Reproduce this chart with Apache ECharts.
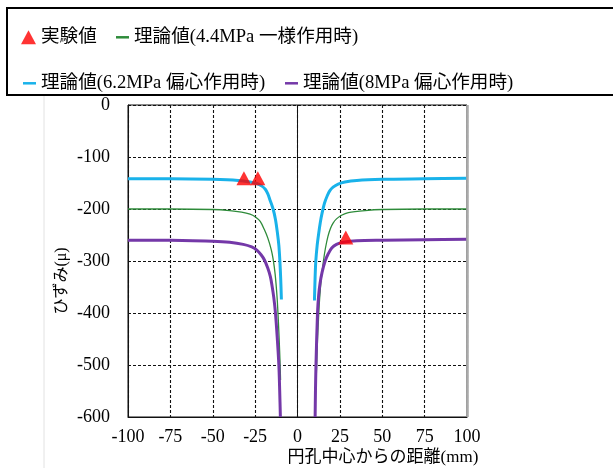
<!DOCTYPE html>
<html><head><meta charset="utf-8">
<script src="https://cdn.jsdelivr.net/npm/echarts@6/dist/echarts.min.js"></script>
<style>html,body{margin:0;padding:0;background:#fff}#c{width:613px;height:468px}</style>
</head><body><div id="c"></div>
<script>
// ---- data ----
const xTicks = [-100, -75, -50, -25, 0, 25, 50, 75, 100];
const yTicks = [-600, -500, -400, -300, -200, -100, 0];

const expPoints = [[-31.6, -141], [-23.4, -141], [28.5, -255]];

const green44Left = [[-100,-200],[-75,-200],[-50,-201],[-40,-203],[-33,-206],[-28,-210],[-25,-215],[-22,-224],[-19.5,-240],[-17.5,-256],[-15.5,-278],[-14.4,-296],[-13.2,-325],[-12,-372],[-11.3,-415],[-10.8,-452],[-10.3,-495],[-10,-529]];
const green44Right = [[11,-529],[11.4,-490],[11.8,-452],[12.4,-410],[13,-375],[14,-335],[15.3,-300],[16.5,-275],[18,-252],[19.5,-237],[21,-227],[23,-219],[26,-212],[30,-207],[40,-203],[50,-201],[75,-200],[100,-200]];

const blue62Left = [[-100,-142],[-75,-142],[-50,-143],[-35,-145],[-28,-148],[-24,-151],[-21,-156],[-19,-162],[-17.5,-171],[-16.3,-182],[-14.4,-200],[-13,-220],[-11.8,-247],[-11,-270],[-10.4,-300],[-9.9,-335],[-9.5,-374]];
const blue62Right = [[10,-376],[10.4,-330],[10.8,-300],[11.6,-270],[12.5,-247],[13.5,-225],[14.5,-208],[16,-188],[17.5,-175],[19,-165],[21,-158],[24,-152],[28,-148],[35,-145],[50,-143],[75,-142],[100,-141]];

const purple8Left = [[-100,-260],[-75,-260],[-50,-262],[-40,-264],[-32,-268],[-27,-273],[-24,-279],[-21.5,-288],[-19.5,-298],[-17.5,-314],[-16,-330],[-15,-348],[-14,-370],[-13,-400],[-12,-445],[-11,-500],[-10.5,-550],[-10.1,-600]];
const purple8Right = [[10.4,-600],[10.6,-550],[10.9,-500],[11.8,-400],[12.5,-365],[13.3,-343],[14.5,-322],[16.3,-300],[18,-287],[20.2,-275],[23,-268],[27,-264],[35,-261],[50,-260],[75,-259],[100,-258]];

const names = ['実験値', '理論値(4.4MPa 一様作用時)', '理論値(6.2MPa 偏心作用時)', '理論値(8MPa 偏心作用時)'];
const xName = '円孔中心からの距離(mm)';
const yName = 'ひずみ(μ)';

// ---- chart ----
const FONT = "'Liberation Serif', 'Noto Sans CJK JP', serif";
const chart = echarts.init(document.getElementById('c'), null, {renderer: 'canvas'});
const legendText = {fontFamily: FONT, fontSize: 18.6, color: '#000'};
function lineSeries(name, data, color, width) {
  return {type: 'line', name, data, showSymbol: false, smooth: 0.3,
    lineStyle: {color, width}, itemStyle: {color}, z: 3, animation: false};
}
const option = {
  animation: false,
  grid: {left: 128, right: 146, top: 105, bottom: 51, show: true, borderColor: '#111', borderWidth: 1},
  legend: [
    {left: 19, top: 26, icon: 'triangle', itemWidth: 15, itemHeight: 14, data: [names[0]], textStyle: legendText, selectedMode: false, padding: 2},
    {left: 114, top: 26, icon: 'rect', itemWidth: 13, itemHeight: 2.5, data: [names[1]], textStyle: legendText, selectedMode: false, padding: 2},
    {left: 21, top: 72, icon: 'rect', itemWidth: 13, itemHeight: 2.5, data: [names[2]], textStyle: legendText, selectedMode: false, padding: 2},
    {left: 283, top: 72, icon: 'rect', itemWidth: 13, itemHeight: 2.5, data: [names[3]], textStyle: legendText, selectedMode: false, padding: 2}
  ],
  xAxis: {type: 'value', min: xTicks[0], max: xTicks[xTicks.length - 1], interval: 25,
    axisLine: {show: true, onZero: false, lineStyle: {color: '#111', width: 1}},
    axisTick: {show: false},
    axisLabel: {fontFamily: FONT, fontSize: 18, color: '#000', margin: 11},
    splitLine: {show: true, lineStyle: {color: '#111', type: [3, 2], width: 1.1}}},
  yAxis: {type: 'value', min: yTicks[0], max: yTicks[yTicks.length - 1], interval: 100,
    axisLine: {show: true, onZero: false, lineStyle: {color: '#111', width: 1}},
    axisTick: {show: false},
    axisLabel: {fontFamily: FONT, fontSize: 18, color: '#000', margin: 18},
    splitLine: {show: true, lineStyle: {color: '#111', type: [3, 2], width: 1.1}}},
  graphic: [
    {type: 'rect', shape: {x: 7, y: 8, width: 620, height: 87}, style: {fill: 'none', stroke: '#000', lineWidth: 2}, z: 10},
    {type: 'line', shape: {x1: 44, y1: 96, x2: 44, y2: 468}, style: {stroke: '#e2e2e2', lineWidth: 1}},
    {type: 'text', x: 383, y: 458, style: {text: xName, font: "17px " + FONT, fill: '#000', textAlign: 'center', textVerticalAlign: 'middle'}},
    {type: 'text', x: 62, y: 281, rotation: Math.PI / 2, style: {text: yName, font: "16px " + FONT, fill: '#000', textAlign: 'center', textVerticalAlign: 'middle'}}
  ],
  series: [
    {type: 'scatter', name: names[0], data: expPoints, symbol: 'triangle', symbolSize: [15, 14],
      itemStyle: {color: '#ff0000'}, z: 5,
      markLine: {silent: true, symbol: 'none', label: {show: false},
        data: [{xAxis: 0, lineStyle: {type: 'solid', color: '#111', width: 1}},
               {xAxis: 100, lineStyle: {type: 'solid', color: '#aaa', width: 2.5}}]}},
    lineSeries(names[1], green44Left, '#2e8b3a', 1.3),
    lineSeries(names[1], green44Right, '#2e8b3a', 1.3),
    lineSeries(names[2], blue62Left, '#19b2ea', 3),
    lineSeries(names[2], blue62Right, '#19b2ea', 3),
    lineSeries(names[3], purple8Left, '#7438a8', 3),
    lineSeries(names[3], purple8Right, '#7438a8', 3)
  ]
};
chart.setOption(option);
</script></body></html>
